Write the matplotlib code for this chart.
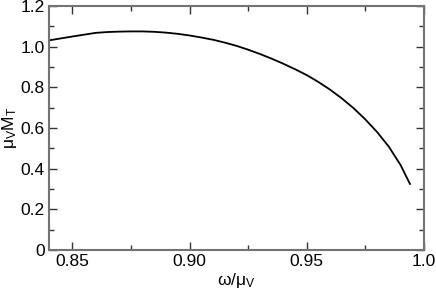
import numpy as np
import matplotlib.pyplot as plt
from matplotlib.ticker import MultipleLocator

plt.rcParams['font.family'] = ['Liberation Sans', 'DejaVu Sans']
plt.rcParams['mathtext.fontset'] = 'custom'
plt.rcParams['mathtext.rm'] = 'Liberation Sans'
plt.rcParams['mathtext.it'] = 'Liberation Sans'

# curve
omega = [0.840, 0.850, 0.860, 0.865, 0.870, 0.875, 0.880, 0.885, 0.890, 0.895,
         0.900, 0.905, 0.910, 0.915, 0.920, 0.925, 0.930, 0.935, 0.940, 0.945,
         0.950, 0.955, 0.960, 0.965, 0.970, 0.975, 0.980, 0.985, 0.990, 0.994]
mass = [1.031, 1.050, 1.068, 1.072, 1.074, 1.075, 1.075, 1.073, 1.069, 1.063,
        1.055, 1.045, 1.034, 1.020, 1.004, 0.985, 0.964, 0.941, 0.916, 0.889,
        0.860, 0.826, 0.788, 0.745, 0.697, 0.642, 0.580, 0.508, 0.418, 0.325]

xticks = [0.85, 0.90, 0.95, 1.0]
xticklabels = ['0.85', '0.90', '0.95', '1.0']
yticks = [0, 0.2, 0.4, 0.6, 0.8, 1.0, 1.2]
yticklabels = ['0', '0.2', '0.4', '0.6', '0.8', '1.0', '1.2']

fig = plt.figure(figsize=(4.36, 2.90), dpi=100)
ax = fig.add_axes([49/436, 40/290, 375/436, 244/290])

ax.plot(omega, mass, color='black', lw=1.3)

ax.set_xlim(0.84, 1.0)
ax.set_ylim(0, 1.2)
ax.set_xticks(xticks)
ax.set_xticklabels(xticklabels)
ax.set_yticks(yticks)
ax.set_yticklabels(yticklabels)
ax.xaxis.set_minor_locator(MultipleLocator(0.025))
ax.yaxis.set_minor_locator(MultipleLocator(0.1))
ax.tick_params(which='both', direction='in', top=True, right=True,
               labelsize=12.5, width=1, color='0.2')
ax.tick_params(which='major', length=6, pad=3)
ax.tick_params(which='minor', length=3.5)
for s in ax.spines.values():
    s.set_color('0.45')
    s.set_linewidth(1.5)

ax.set_xlabel(r'$\omega/\mu_V$', fontsize=12.5, labelpad=1)
ax.set_ylabel(r'$\mathrm{\mu_V M_T}$', fontsize=12.5, labelpad=1)

fig.savefig('out.png', dpi=100)
